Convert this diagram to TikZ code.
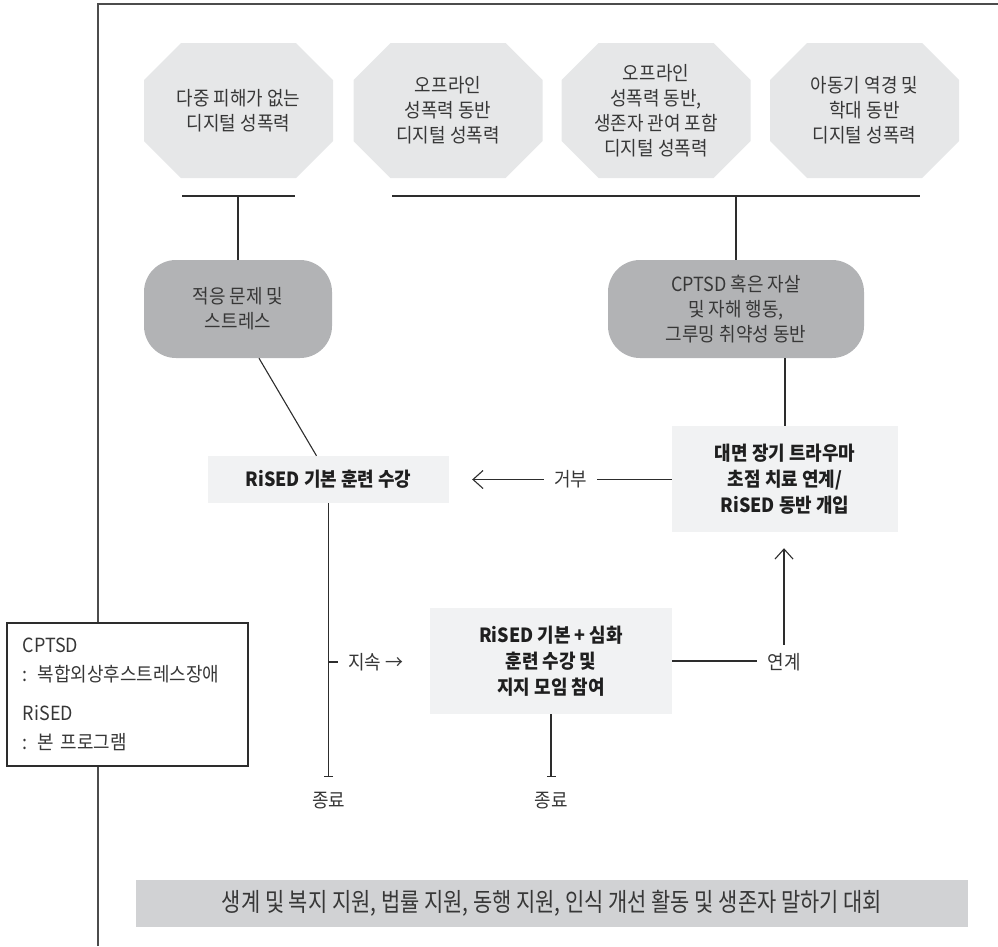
\documentclass[tikz,border=0pt]{standalone}
\usepackage{fontspec}
\setmainfont{Noto Sans CJK KR}[FakeStretch=0.92]
\newfontfamily\schmal{Noto Sans CJK KR}[FakeStretch=0.82]
\usepackage{tikz}
\usetikzlibrary{arrows.meta, positioning}
\definecolor{myocta}{RGB}{230,231,232}
\definecolor{myround}{RGB}{178,179,181}
\definecolor{mylight}{RGB}{241,242,243}
\definecolor{mybar}{RGB}{209,210,212}
\definecolor{mytext}{RGB}{55,55,55}
\definecolor{myline}{RGB}{45,45,45}

\begin{document}
\begin{tikzpicture}[x=1pt, y=-1pt, >={Straight Barb[length=10pt, width=18pt]}, font=\fontsize{19.5}{25}\selectfont,
	octa/.style={minimum width=189pt, minimum height=135pt, inner sep=0pt, align=center, text=mytext, fill=white,
		path picture={\fill[myocta] ([xshift=37pt]path picture bounding box.north west)
			-- ([xshift=-37pt]path picture bounding box.north east)
			-- ([yshift=-37pt]path picture bounding box.north east)
			-- ([yshift=37pt]path picture bounding box.south east)
			-- ([xshift=-37pt]path picture bounding box.south east)
			-- ([xshift=37pt]path picture bounding box.south west)
			-- ([yshift=37pt]path picture bounding box.south west)
			-- ([yshift=-37pt]path picture bounding box.north west) -- cycle;}},
	runde/.style={fill=myround, rounded corners=32pt, minimum height=98pt, inner sep=0pt, align=center, text=mytext},
	kasten/.style={fill=mylight, inner sep=0pt, align=center, text=black!88, font=\fontsize{19.5}{26}\selectfont\bfseries},
	beschr/.style={inner xsep=10pt, text=mytext},
	linie/.style={draw=myline, line width=1.1pt},
	rahmen/.style={draw=black!70, line width=1.4pt}]
				\useasboundingbox (0,0) rectangle (998,946);
				% Rahmen zeichnen
				\draw[rahmen] (98,946) -- (98,4) -- (998,4);
				% Achtecke
				\node[octa] (o1) at (238.5,110.5) {다중 피해가 없는\\디지털 성폭력};
				\node[octa] (o2) at (448,110.5) {오프라인\\성폭력 동반\\디지털 성폭력};
				\node[octa] (o3) at (656,110.5) {오프라인\\성폭력 동반,\\생존자 관여 포함\\디지털 성폭력};
				\node[octa] (o4) at (864.5,110.5) {아동기 역경 및\\학대 동반\\디지털 성폭력};
				% Klammerlinien
				\coordinate (s1l) at (182,196);
				\coordinate (s1r) at (295,196);
				\coordinate (s2l) at (392,196);
				\coordinate (s2r) at (920,196);
				\draw[linie] (s1l) -- (s1r);
				\draw[linie] (s2l) -- (s2r);
				% Abgerundete Kaesten
				\node[runde, minimum width=188pt] (r1) at (238,309) {적응 문제 및\\스트레스};
				\node[runde, minimum width=256pt] (r2) at (736,309) {CPTSD 혹은 자살\\및 자해 행동,\\그루밍 취약성 동반};
				\draw[linie] (r1.north |- s1l) -- (r1.north);
				\draw[linie] (r2.north |- s2l) -- (r2.north);
				% Helle Kaesten
				\node[kasten, minimum width=241pt, minimum height=47pt] (k1) at (328.5,479.5) {RiSED 기본 훈련 수강};
				\node[kasten, minimum width=226pt, minimum height=106pt] (k3) at (785,479) {대면 장기 트라우마\\초점 치료 연계/\\RiSED 동반 개입};
				\node[kasten, minimum width=242pt, minimum height=106pt] (k2) at (551,661) {RiSED 기본 + 심화\\훈련 수강 및\\지지 모임 참여};
				\draw[linie] ([xshift=21pt]r1.south) -- ([xshift=-12pt]k1.north);
				\draw[linie] (r2.south -| k3.north) -- (k3.north);
				% Beschriftung der Pfeile
				\node[beschr] (ablehn) at (570.5,479.5) {거부};
				\draw[linie] (k3.west |- ablehn) -- (ablehn.east);
				\draw[linie, ->, shorten >=23pt] (ablehn.west) -- (k1.east);
				\node[beschr, anchor=west] (weiter) at (338,662) {지속 →};
				\draw[linie] (k1.south |- weiter.west) -- (weiter.west);
				\node[beschr, minimum height=34pt] (verbind) at (784,662) {연계};
				\draw[linie] (k2.east) -- (k2.east -| verbind.west);
				\draw[linie, ->, shorten >=16pt] (verbind.north) -- (verbind.north |- k3.south);
				% Enden
				\coordinate (e1) at (328.5,777);
				\coordinate (e2) at (551,777);
				\draw[linie, -{Bar[width=9pt]}] (k1.south) -- (e1);
				\draw[linie, -{Bar[width=9pt]}] (k2.south) -- (e2);
				\node[text=mytext, below=12pt of e1] (ende1) {종료};
				\node[text=mytext, below=12pt of e2] (ende2) {종료};
				% Legende
				\node[draw=myline, line width=1.1pt, fill=white, text=mytext, align=left, text width=209pt, inner xsep=16pt,
					minimum height=143pt, font=\fontsize{19.5}{29}\selectfont] (legende) at (127.5,694.5)
					{CPTSD\\: 복합외상후스트레스장애\\[10pt]RiSED\\: 본 프로그램};
				% Leiste unten
				\node[fill=mybar, minimum width=832pt, minimum height=47pt, inner sep=0pt, text=mytext,
					font=\schmal\fontsize{25.5}{28}\selectfont] (leiste) at (552,903.5)
					{생계 및 복지 지원, 법률 지원, 동행 지원, 인식 개선 활동 및 생존자 말하기 대회};
\end{tikzpicture}
\end{document}
